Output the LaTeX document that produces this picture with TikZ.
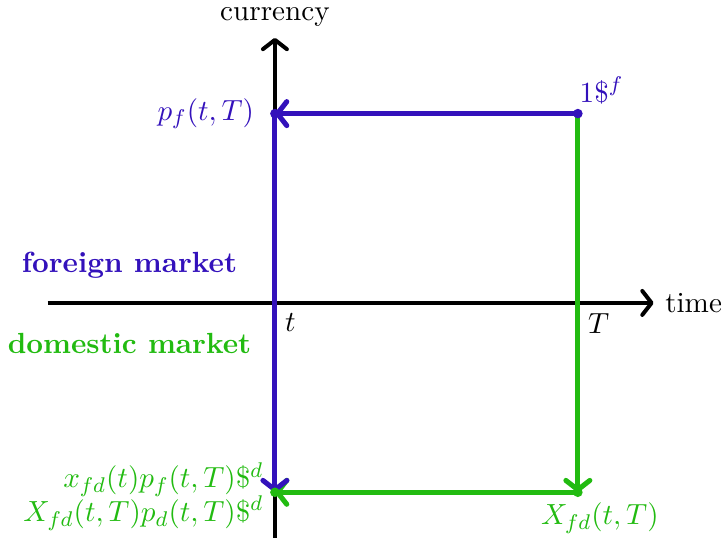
\documentclass[tikz,border=0pt,11pt]{standalone}
\usepackage{amsmath, amssymb}
\usepackage{tikz}
\usetikzlibrary{arrows.meta, positioning}
\usepackage{xcolor}
\definecolor{myblue}{RGB}{51,17,187}
\definecolor{mygreen}{RGB}{34,187,17}

\begin{document}
\begin{tikzpicture}[
  arr/.style={-{Straight Barb[round,length=3.5pt,width=9pt]}},
  axisline/.style={line width=1.5pt,arr},
  flow/.style={line width=1.9pt,arr}]
  \useasboundingbox (-3.63,-3.13) rectangle (5.89,4.0);
  % corner points
  \coordinate (O) at (0,0);
  \coordinate (Tx) at (4,0);
  \coordinate (A) at (0,2.5);
  \coordinate (B) at (4,2.5);
  \coordinate (C) at (4,-2.5);
  \coordinate (D) at (0,-2.5);
  \coordinate (xl) at (-3,0);
  \coordinate (xr) at (5,0);
  \coordinate (yb) at (0,-3.1);
  \coordinate (yt) at (0,3.5);
  % axes
  \draw[axisline](xl)--(xr) node[right](time){time};
  \draw[axisline](yb)--(yt) node[above](cur){currency};
  \node[below right](tlab) at(O){$t$};
  \node[below right](Tlab) at(Tx){$T$};
  % green leg
  \draw[flow,mygreen](B)--(C);
  \draw[flow,mygreen](C)--(D);
  % blue leg
  \draw[flow,myblue](B)--(A);
  \draw[flow,myblue](A)--(D);
  % dots at corners
  \fill[myblue](A) circle(1.8pt);
  \fill[myblue](B) circle(1.8pt);
  \fill[mygreen](C) circle(1.8pt);
  \fill[mygreen](D) circle(1.8pt);
  % labels
  \node[myblue,left=4pt of A](pf){$p_f(t,T)$};
  \node[myblue,above right,inner xsep=0.5pt,inner ysep=3.5pt](one) at(B){$1\$^f$};
  \node[mygreen,left=0.5pt of D,yshift=-1.5pt,align=right](xd){$x_{fd}(t)p_f(t,T)\$^d$\\[-1pt]$X_{fd}(t,T)p_d(t,T)\$^d$};
  \node[mygreen,below=0pt of C,xshift=0.29cm](Xfd){$X_{fd}(t,T)$};
  % market labels
  \node[myblue,font=\bfseries](fm) at(-1.92,0.5){foreign market};
  \node[mygreen,font=\bfseries](dm) at(-1.92,-0.53){domestic market};
\end{tikzpicture}
\end{document}
